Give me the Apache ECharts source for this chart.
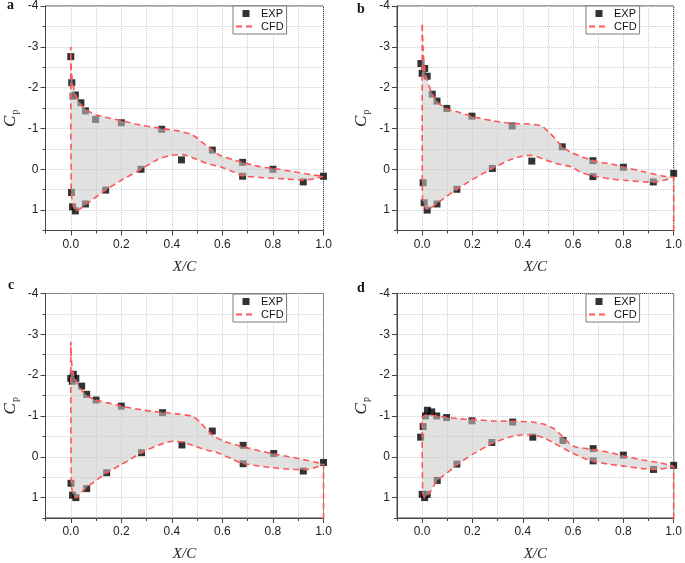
<!DOCTYPE html>
<html>
<head>
<meta charset="utf-8">
<script src="https://cdn.jsdelivr.net/npm/echarts@6/dist/echarts.min.js"></script>
<style>html,body{margin:0;padding:0;background:#fff;}#c{width:685px;height:563px;}</style>
</head>
<body>
<div id="c"></div>
<script>
// ---------- data (x/c, Cp) ----------
const xTicks = [0, 0.2, 0.4, 0.6, 0.8, 1.0];
const yTicks = [-4, -3, -2, -1, 0, 1];
const panelLabels = ['a', 'b', 'c', 'd'];

// Panel a
const aExp = [[0.0,-2.76],[0.004,-2.12],[0.009,-1.79],[0.018,-1.82],[0.04,-1.63],[0.058,-1.43],[0.098,-1.22],[0.2,-1.14],[0.36,-0.98],[0.56,-0.47],[0.68,-0.17],[0.8,0.0],[1.0,0.17],
  [0.003,0.57],[0.007,0.92],[0.018,1.02],[0.058,0.85],[0.138,0.51],[0.278,0.0],[0.438,-0.23],[0.68,0.17],[0.92,0.31]];
const aUpper = [[0.0,-3.0],[0.002,-2.43],[0.009,-2.06],[0.022,-1.78],[0.042,-1.57],[0.068,-1.43],[0.098,-1.34],[0.147,-1.26],[0.2,-1.19],[0.278,-1.08],[0.357,-1.0],[0.423,-0.94],[0.475,-0.86],[0.501,-0.76],[0.528,-0.62],[0.56,-0.47],[0.593,-0.33],[0.646,-0.23],[0.678,-0.17],[0.75,-0.06],[0.803,-0.02],[0.882,0.06],[0.961,0.14],[1.0,0.17]];
const aLower = [[0.002,0.6],[0.013,0.96],[0.022,1.02],[0.062,0.85],[0.138,0.51],[0.2,0.27],[0.278,0.0],[0.344,-0.24],[0.396,-0.34],[0.442,-0.36],[0.488,-0.27],[0.54,-0.14],[0.593,-0.06],[0.646,0.07],[0.68,0.16],[0.75,0.2],[0.856,0.24],[0.921,0.26],[0.961,0.24],[1.0,0.17]];
const aTail = [];

// Panel b
const bExp = [[-0.005,-2.59],[0.0,-2.35],[0.01,-2.47],[0.02,-2.28],[0.04,-1.84],[0.059,-1.67],[0.098,-1.49],[0.198,-1.3],[0.358,-1.06],[0.557,-0.55],[0.679,-0.21],[0.8,-0.05],[1.0,0.1],
  [0.004,0.33],[0.008,0.82],[0.02,1.0],[0.059,0.85],[0.138,0.49],[0.279,-0.02],[0.436,-0.2],[0.679,0.18],[0.919,0.31]];
const bUpper = [[0.0,-3.58],[0.004,-2.92],[0.008,-2.55],[0.014,-2.31],[0.03,-2.0],[0.046,-1.78],[0.069,-1.6],[0.096,-1.49],[0.148,-1.39],[0.2,-1.29],[0.279,-1.19],[0.358,-1.12],[0.423,-1.11],[0.476,-1.06],[0.502,-0.92],[0.528,-0.76],[0.557,-0.55],[0.594,-0.41],[0.646,-0.28],[0.699,-0.18],[0.751,-0.13],[0.803,-0.05],[0.882,0.06],[0.961,0.17],[1.0,0.19]];
const bLower = [[0.001,0.7],[0.014,0.96],[0.024,0.98],[0.056,0.85],[0.096,0.67],[0.138,0.49],[0.2,0.25],[0.279,-0.02],[0.345,-0.22],[0.397,-0.32],[0.436,-0.34],[0.489,-0.23],[0.541,-0.13],[0.594,-0.06],[0.633,0.08],[0.679,0.16],[0.751,0.24],[0.803,0.27],[0.882,0.31],[0.921,0.32],[0.961,0.27],[1.0,0.19]];
const bTail = [[1.0,2.5]];

// Panel c
const cExp = [[0.0,-1.92],[0.006,-1.85],[0.01,-2.02],[0.02,-1.92],[0.043,-1.73],[0.063,-1.53],[0.1,-1.39],[0.2,-1.24],[0.363,-1.08],[0.56,-0.63],[0.682,-0.28],[0.803,-0.08],[1.0,0.14],
  [0.001,0.65],[0.007,0.94],[0.02,1.0],[0.063,0.78],[0.142,0.39],[0.28,-0.1],[0.44,-0.29],[0.682,0.17],[0.92,0.35]];
const cUpper = [[0.0,-2.82],[0.003,-2.33],[0.009,-2.05],[0.022,-1.85],[0.042,-1.64],[0.068,-1.48],[0.094,-1.4],[0.147,-1.32],[0.2,-1.24],[0.278,-1.15],[0.357,-1.09],[0.423,-1.05],[0.482,-0.99],[0.508,-0.87],[0.541,-0.65],[0.567,-0.5],[0.606,-0.38],[0.672,-0.26],[0.751,-0.14],[0.803,-0.07],[0.882,0.02],[0.961,0.12],[1.0,0.18]];
const cLower = [[0.002,0.7],[0.013,0.98],[0.022,1.0],[0.058,0.77],[0.094,0.61],[0.14,0.4],[0.2,0.19],[0.278,-0.09],[0.344,-0.28],[0.403,-0.38],[0.442,-0.36],[0.49,-0.26],[0.54,-0.16],[0.58,-0.1],[0.633,0.04],[0.678,0.16],[0.75,0.23],[0.8,0.27],[0.88,0.31],[0.934,0.31],[0.974,0.25],[1.0,0.18]];
const cTail = [[1.0,2.5]];

// Panel d
const dExp = [[-0.006,-0.48],[0.004,-0.74],[0.013,-1.0],[0.021,-1.14],[0.038,-1.1],[0.058,-1.0],[0.097,-0.96],[0.198,-0.88],[0.36,-0.85],[0.56,-0.4],[0.68,-0.2],[0.8,-0.04],[1.0,0.21],
  [0.0,0.92],[0.01,1.0],[0.02,0.92],[0.06,0.58],[0.138,0.18],[0.277,-0.35],[0.44,-0.48],[0.68,0.1],[0.92,0.31]];
const dUpper = [[0.0,-0.95],[0.017,-1.02],[0.043,-1.01],[0.096,-0.97],[0.148,-0.93],[0.2,-0.91],[0.279,-0.88],[0.358,-0.87],[0.436,-0.85],[0.489,-0.79],[0.528,-0.67],[0.561,-0.48],[0.587,-0.32],[0.61,-0.24],[0.679,-0.18],[0.75,-0.1],[0.8,-0.02],[0.88,0.08],[0.948,0.15],[1.0,0.23]];
const dLower = [[0.002,0.85],[0.01,1.0],[0.03,0.88],[0.059,0.59],[0.096,0.41],[0.138,0.2],[0.2,-0.06],[0.279,-0.33],[0.345,-0.48],[0.397,-0.54],[0.436,-0.54],[0.489,-0.45],[0.54,-0.28],[0.594,-0.1],[0.646,0.04],[0.679,0.11],[0.75,0.19],[0.8,0.23],[0.88,0.29],[0.934,0.31],[0.974,0.27],[1.0,0.23]];
const dTail = [[1.0,2.5]];

const panels = [
  {exp: aExp, upper: aUpper, lower: aLower, tail: aTail},
  {exp: bExp, upper: bUpper, lower: bLower, tail: bTail},
  {exp: cExp, upper: cUpper, lower: cLower, tail: cTail},
  {exp: dExp, upper: dUpper, lower: dLower, tail: dTail}
];

// ---------- layout ----------
const gridPos = [
  {left: 44, top: 6, width: 279.5, height: 224.5},
  {left: 397, top: 6, width: 279, height: 224.5},
  {left: 44, top: 293.5, width: 279.5, height: 224.5},
  {left: 397, top: 293.5, width: 279, height: 224.5}
];
const legendPos = [{left: 233, top: 6}, {left: 586, top: 6}, {left: 233, top: 294}, {left: 586, top: 294}];
const titlePos = [{left: 7, top: -2}, {left: 357, top: 2}, {left: 8, top: 278}, {left: 357, top: 281}];

const SANS = 'Liberation Sans, Arial, sans-serif';
const SERIF = 'Liberation Serif, Times New Roman, serif';
const RED = '#ff5757';
const FILL = 'rgba(200,200,200,0.55)';
const SMOOTH = 0.2;

const grid = [], xAxis = [], yAxis = [], series = [], legend = [], title = [];

panels.forEach((p, k) => {
  grid.push(Object.assign({show: true, borderColor: '#444', borderWidth: 1, backgroundColor: 'transparent'}, gridPos[k]));
  // main x axis (labels, major ticks)
  xAxis.push({
    gridIndex: k, type: 'value', min: -0.1, max: 1.0, interval: 0.1, position: 'bottom',
    axisLine: {show: true, onZero: false, lineStyle: {color: '#444', width: 1}},
    axisTick: {show: true, inside: false, length: 5, customValues: xTicks, lineStyle: {color: '#444'}},
    axisLabel: {customValues: xTicks, margin: 8, fontSize: 12, fontFamily: SANS, color: '#222',
      formatter: v => (Math.round(v * 10) % 2 === 0 ? v.toFixed(1) : '')},
    splitLine: {show: false},
    name: 'X/C', nameLocation: 'middle', nameGap: 29,
    nameTextStyle: {fontFamily: SERIF, fontStyle: 'italic', fontSize: 15, color: '#222'}
  });
  // minor x axis (minor ticks + grid)
  xAxis.push({
    gridIndex: k, type: 'value', min: -0.1, max: 1.0, interval: 0.1, position: 'bottom',
    axisLine: {show: false, onZero: false},
    axisTick: {show: true, inside: false, length: 3, lineStyle: {color: '#444'}},
    axisLabel: {show: false},
    splitLine: {show: true, lineStyle: {color: '#cfcfcf', type: 'dotted', width: 1}}
  });
  yAxis.push({
    gridIndex: k, type: 'value', min: -4, max: 1.5, interval: 1, inverse: true, position: 'left',
    axisLine: {show: true, onZero: false, lineStyle: {color: '#444', width: 1}},
    axisTick: {show: true, inside: false, length: 5, customValues: yTicks, lineStyle: {color: '#444'}},
    axisLabel: {customValues: yTicks, margin: 7, fontSize: 12, fontFamily: SANS, color: '#222',
      formatter: v => (Number.isInteger(v) ? String(v) : '')},
    splitLine: {show: false},
    name: '{c|C}{p|p}', nameLocation: 'middle', nameGap: 25, nameRotate: 90,
    nameTextStyle: {rich: {
      c: {fontFamily: SERIF, fontStyle: 'italic', fontSize: 17, color: '#222', lineHeight: 20},
      p: {fontFamily: SERIF, fontSize: 10, color: '#222', lineHeight: 20, padding: [9, 0, 0, 1]}
    }}
  });
  yAxis.push({
    gridIndex: k, type: 'value', min: -4, max: 1.5, interval: 0.5, inverse: true, position: 'left',
    axisLine: {show: false, onZero: false},
    axisTick: {show: true, inside: false, length: 3, lineStyle: {color: '#444'}},
    axisLabel: {show: false},
    splitLine: {show: true, lineStyle: {color: '#cfcfcf', type: 'dotted', width: 1}}
  });

  const loop = p.lower.slice().reverse().concat(p.upper);
  const linePath = p.tail.concat(loop);

  series.push({
    type: 'scatter', name: 'EXP', xAxisIndex: 2 * k, yAxisIndex: 2 * k, z: 2,
    symbol: 'rect', symbolSize: 7, itemStyle: {color: '#000'}, data: p.exp, silent: true
  });
  series.push({
    type: 'custom', name: 'band' + k, xAxisIndex: 2 * k, yAxisIndex: 2 * k, z: 3, silent: true,
    data: loop, encode: {x: 0, y: 1},
    renderItem: function (params, api) {
      if (params.dataIndex !== 0) return null;
      const pts = loop.map(q => api.coord(q));
      return {type: 'polygon', shape: {points: pts, smooth: SMOOTH}, style: {fill: FILL, stroke: null}};
    }
  });
  series.push({
    type: 'line', name: 'CFD', xAxisIndex: 2 * k, yAxisIndex: 2 * k, z: 4, silent: true,
    data: linePath, showSymbol: false, symbol: 'none', smooth: SMOOTH, clip: true,
    lineStyle: {color: RED, width: 1.6, type: [6, 4]}, itemStyle: {color: RED}
  });

  legend.push(Object.assign({
    orient: 'vertical', selectedMode: false, itemWidth: 20, itemHeight: 7, itemGap: 2,
    padding: [2, 3, 2, 2], borderColor: '#7a7a7a', borderWidth: 1, backgroundColor: '#fff',
    textStyle: {fontSize: 11, fontFamily: SANS, color: '#111'},
    symbolKeepAspect: true,
    data: [
      {name: 'EXP', icon: 'path://M0,0H10V10H0Z', itemStyle: {color: '#000'}},
      {name: 'CFD', itemStyle: {color: 'rgba(0,0,0,0)', borderWidth: 0, opacity: 0}}
    ]
  }, legendPos[k]));

  title.push(Object.assign({
    text: panelLabels[k], padding: 0,
    textStyle: {fontFamily: SERIF, fontWeight: 'bold', fontSize: 14, color: '#111'}
  }, titlePos[k]));
});

const chart = echarts.init(document.getElementById('c'), null, {renderer: 'canvas'});
chart.setOption({animation: false, backgroundColor: '#fff', title, grid, xAxis, yAxis, legend, series});
</script>
</body>
</html>
